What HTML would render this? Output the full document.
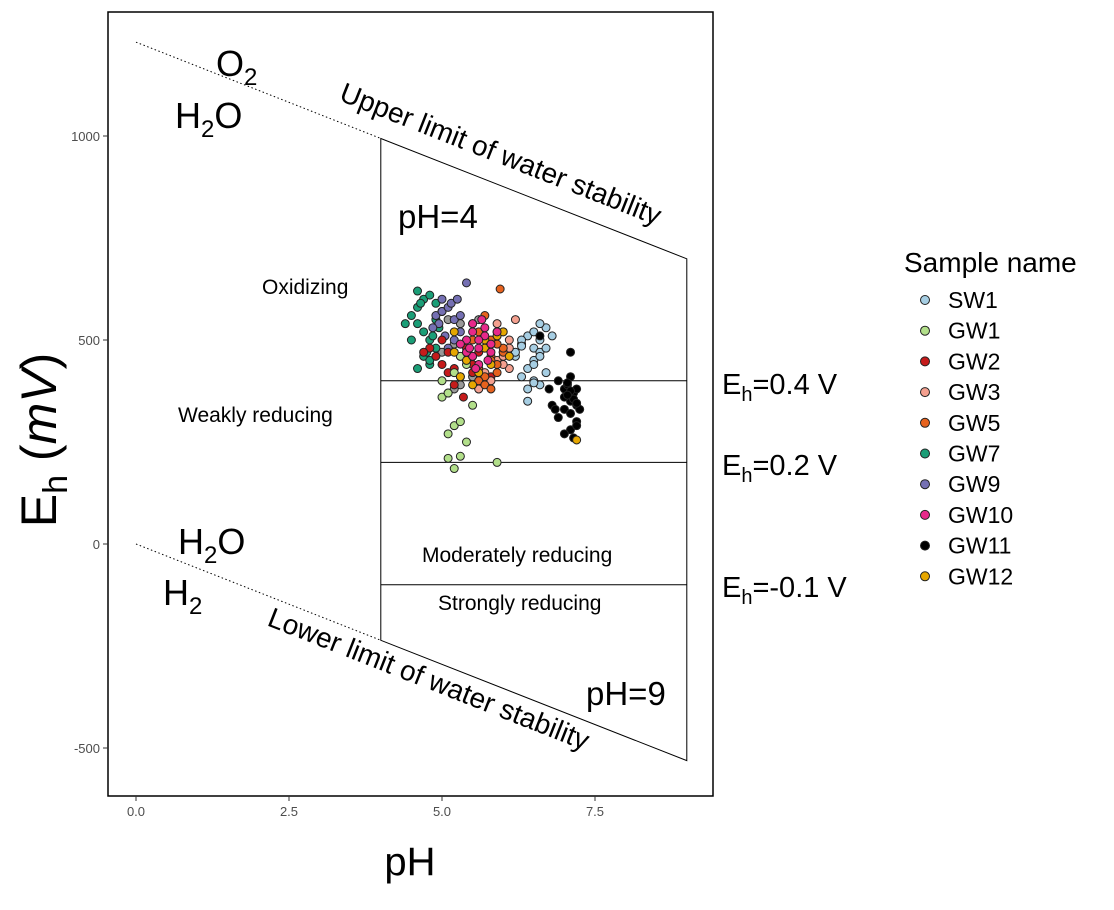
<!DOCTYPE html>
<html><head><meta charset="utf-8"><style>
body{margin:0;background:#fff}
svg text{font-family:"Liberation Sans",sans-serif}
</style></head><body>
<svg id="c" width="1114" height="905" xmlns="http://www.w3.org/2000/svg">
<rect x="108" y="12" width="605" height="784" fill="none" stroke="#000" stroke-width="1.5"/>
<g id="axes"></g>
<g id="frame"></g>
<g id="pts"></g>
<g fill="#000">
<text x="216" y="76" font-size="36">O<tspan font-size="24" dy="9">2</tspan></text>
<text x="175" y="128" font-size="36">H<tspan font-size="24" dy="9">2</tspan><tspan dy="-9">O</tspan></text>
<text x="338" y="100" font-size="28" transform="rotate(21.5 338 100)">Upper limit of water stability</text>
<text x="178" y="554" font-size="36">H<tspan font-size="24" dy="9">2</tspan><tspan dy="-9">O</tspan></text>
<text x="163" y="605" font-size="36">H<tspan font-size="24" dy="9">2</tspan></text>
<text x="266" y="625" font-size="28" transform="rotate(21.5 266 625)">Lower limit of water stability</text>
<text x="398" y="228" font-size="33">pH=4</text>
<text x="586" y="705" font-size="33">pH=9</text>
<text x="262" y="294" font-size="21">Oxidizing</text>
<text x="178" y="422" font-size="21">Weakly reducing</text>
<text x="422" y="562" font-size="21">Moderately reducing</text>
<text x="438" y="610" font-size="21">Strongly reducing</text>
<text x="722" y="394" font-size="29">E<tspan font-size="20" dy="7">h</tspan><tspan dy="-7">=0.4 V</tspan></text>
<text x="722" y="475" font-size="29">E<tspan font-size="20" dy="7">h</tspan><tspan dy="-7">=0.2 V</tspan></text>
<text x="722" y="597" font-size="29">E<tspan font-size="20" dy="7">h</tspan><tspan dy="-7">=-0.1 V</tspan></text>
<text x="56" y="440" font-size="50" transform="rotate(-90 56 440)" text-anchor="middle">E<tspan font-size="34" dy="11">h</tspan><tspan dy="-11"> (</tspan><tspan font-style="italic">mV</tspan>)</text>
<text x="410" y="875" font-size="40" text-anchor="middle">pH</text>
</g>
<g id="legend">
<text x="904" y="272" font-size="28">Sample name</text>
</g>
</svg>
<script>
const groups=["SW1","GW1","GW2","GW3","GW5","GW7","GW9","GW10","GW11","GW12"];
const colors=["#a6cee3","#b2df8a","#c51b1b","#f4a08f","#e6621e","#1b9e77","#7570b3","#e7298a","#000000","#e6a700"];
const grayPH=[5.0,5.1,5.3,5.2,5.4,5.5,5.1,5.3,5.0,5.2,5.6];
const grayEh=[570,550,540,490,450,410,370,390,470,380,550];
const sw1PH=[6.2,6.3,6.4,6.5,6.6,6.7,6.5,6.6,6.4,6.3,6.5,6.7,6.6,6.4,6.2,6.5,6.6,6.3,6.7,6.4,6.5,6.6,6.8,6.5,6.3];
const sw1Eh=[460,490,510,480,500,530,450,470,430,410,400,420,390,380,470,520,540,500,480,350,440,460,510,395,485];
const gw1PH=[5.0,5.1,5.2,5.3,5.1,5.2,5.4,5.9,5.5,5.3,5.2,5.6,5.0,5.4,5.3,5.1,5.7];
const gw1Eh=[360,210,290,215,270,185,250,200,340,300,420,380,400,440,460,370,410];
const gw2PH=[4.8,4.9,5.0,5.1,5.2,5.3,5.4,5.5,5.6,5.7,5.0,5.2,5.4,5.3,5.5,4.7,5.1,5.6,5.8,5.35];
const gw2Eh=[480,460,440,470,430,410,450,420,470,400,500,390,480,460,440,470,420,430,410,360];
const gw3PH=[5.9,6.0,6.1,5.8,6.0,6.2,5.9,6.1,5.7,5.8,6.0,5.9,6.1,5.6,6.0];
const gw3Eh=[540,520,500,490,470,550,450,430,420,400,460,510,480,380,440];
const gw5PH=[5.5,5.6,5.7,5.8,5.9,6.0,5.6,5.7,5.8,5.9,5.5,5.7,5.9,5.6,5.8,6.0,5.7,5.4,5.9,5.8,5.95];
const gw5Eh=[500,520,480,460,440,470,430,410,500,520,540,560,420,400,450,480,390,470,490,380,625];
const gw7PH=[4.5,4.6,4.7,4.8,4.9,5.0,4.6,4.7,4.8,4.9,4.7,4.8,4.6,4.5,4.9,4.65,4.75,4.85,4.95,4.4,4.6,4.8];
const gw7Eh=[560,580,600,610,590,570,540,520,500,480,460,440,430,500,550,590,470,510,530,540,620,450];
const gw9PH=[4.9,5.0,5.1,5.2,5.3,4.95,5.05,5.15,5.0,5.2,5.1,5.3,4.85,5.25,5.4];
const gw9Eh=[560,570,580,550,520,540,510,590,600,500,480,560,530,600,640];
const gw10PH=[5.4,5.5,5.6,5.7,5.8,5.5,5.6,5.7,5.4,5.5,5.6,5.8,5.9,5.3,5.65,5.75,5.45,5.55];
const gw10Eh=[500,520,480,510,490,460,440,530,470,540,500,470,520,490,550,450,480,430];
const gw11PH=[6.9,7.0,7.1,7.2,7.0,7.1,7.2,7.05,7.15,7.1,7.0,7.2,6.8,6.9,7.1,7.0,7.15,7.25,7.1,7.05,6.85,7.2,6.6,7.1,6.75,7.15,7.2,7.1,7.05];
const gw11Eh=[400,380,360,340,330,320,300,390,370,350,360,380,340,310,280,270,260,330,410,395,330,290,510,470,380,355,345,375,365];
const gw12PH=[5.2,5.3,5.5,5.7,5.9,6.1,5.4,5.6,5.8,5.3,5.5,5.7,5.2,6.0,7.2];
const gw12Eh=[520,490,460,480,510,460,450,420,440,410,390,500,470,520,255];
const xTicks=[0,2.5,5,7.5];
const xTickLabels=["0.0","2.5","5.0","7.5"];
const yTicks=[1000,500,0,-500];
const yTickLabels=["1000","500","0","-500"];
const limits=[400,200,-100];

const NS="http://www.w3.org/2000/svg";
const X=p=>136+p*61.2;
const Y=e=>544-e*0.408;
function mk(tag,attrs,parent){const el=document.createElementNS(NS,tag);for(const k in attrs)el.setAttribute(k,attrs[k]);parent.appendChild(el);return el;}
const axes=document.getElementById('axes');
xTicks.forEach((t,i)=>{
 const tk=mk('line',{x1:X(t),x2:X(t),y1:796,y2:801,stroke:'#333'},axes);
 
 
 const tx=mk('text',{x:X(t),y:816,'font-size':13,fill:'#4d4d4d','text-anchor':'middle'},axes);
 
 
 tx.textContent=xTickLabels[i];
});
yTicks.forEach((t,i)=>{
 const tk=mk('line',{x1:103,x2:108,y1:Y(t),y2:Y(t),stroke:'#333'},axes);
 
 
 const tx=mk('text',{x:100,y:Y(t)+5,'font-size':13,fill:'#4d4d4d','text-anchor':'end'},axes);
 
 
 tx.textContent=yTickLabels[i];
});
const fr=document.getElementById('frame');
const up=p=>1230-59*p, lo=p=>-59*p;
let l;
l=mk('line',{x1:X(0),y1:Y(up(0)),x2:X(4),y2:Y(up(4)),stroke:'#000','stroke-dasharray':'1.5 2.5'},fr);


l=mk('line',{x1:X(0),y1:Y(lo(0)),x2:X(4),y2:Y(lo(4)),stroke:'#000','stroke-dasharray':'1.5 2.5'},fr);


l=mk('polygon',{points:`${X(4)},${Y(up(4))} ${X(9)},${Y(up(9))} ${X(9)},${Y(lo(9))} ${X(4)},${Y(lo(4))}`,fill:'none',stroke:'#000','stroke-width':1},fr);


limits.forEach(v=>{
 const h=mk('line',{x1:X(4),x2:X(9),y1:Y(v),y2:Y(v),stroke:'#000','stroke-width':1},fr);
 
 
});
const pts=document.getElementById('pts');
function draw(ph,eh,col,name){
 ph.forEach((p,i)=>{
  const c=mk('circle',{cx:X(p),cy:Y(eh[i]),r:4,fill:col,stroke:'#222','stroke-width':1},pts);
  
  
 });
}
const series=[[sw1PH,sw1Eh],[gw1PH,gw1Eh],[gw2PH,gw2Eh],[gw3PH,gw3Eh],[gw5PH,gw5Eh],[gw7PH,gw7Eh],[gw9PH,gw9Eh],[gw10PH,gw10Eh],[gw11PH,gw11Eh],[gw12PH,gw12Eh]];
draw(grayPH,grayEh,'#999','point-other');
[5,6,2,1,0,8,3,4,9,7].forEach(i=>draw(series[i][0],series[i][1],colors[i],'point-'+groups[i].toLowerCase()));
const lg=document.getElementById('legend');
groups.forEach((g,i)=>{
 const y=300+i*30.7;
 const c=mk('circle',{cx:925,cy:y,r:4.5,fill:colors[i],stroke:'#222','stroke-width':1},lg);
 
 
 const t=mk('text',{x:948,y:y+8,'font-size':23},lg);
 
 
 t.textContent=g;
});
</script>
</body></html>
